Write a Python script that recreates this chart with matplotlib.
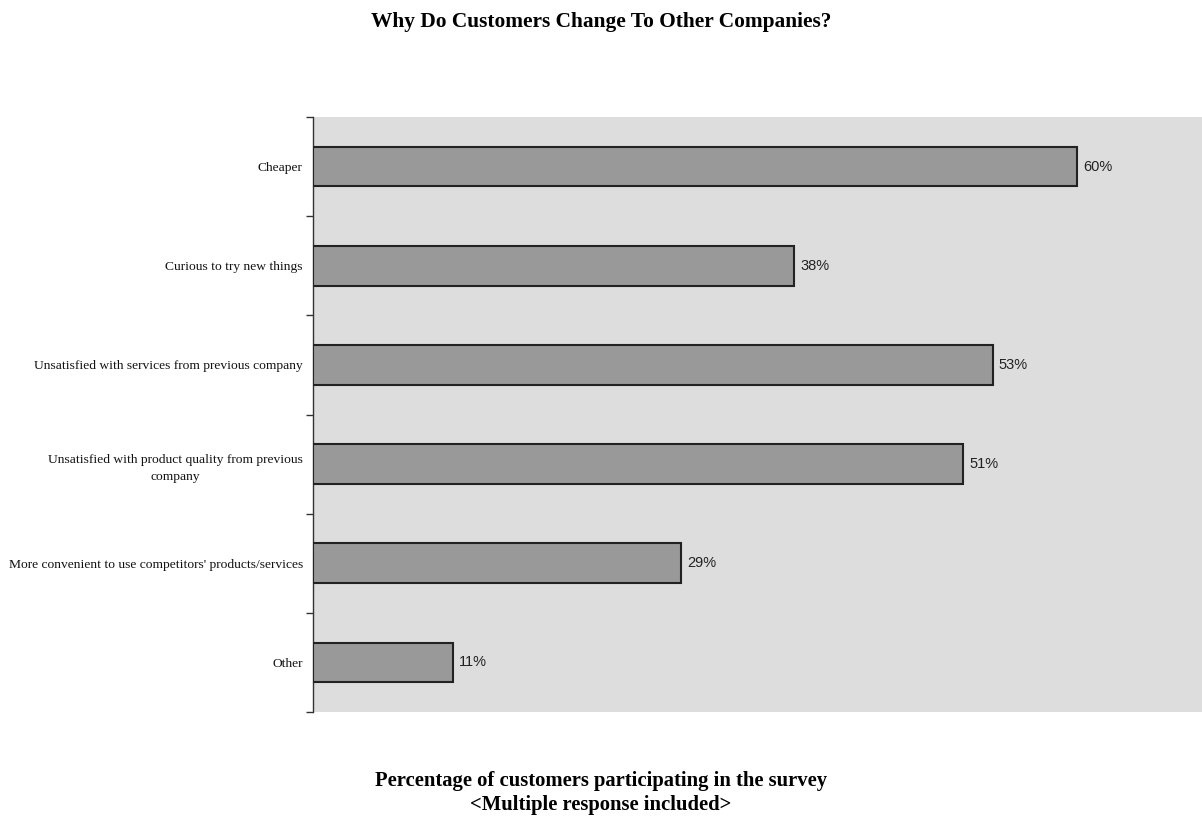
import matplotlib
matplotlib.use("Agg")
import matplotlib.pyplot as plt
from matplotlib.ticker import FixedLocator, NullLocator

categories = [
    "Cheaper",
    "Curious to try new things",
    "Unsatisfied with services from previous company",
    "Unsatisfied with product quality from previous\ncompany",
    "More convenient to use competitors' products/services",
    "Other",
]
values = [60.0, 37.8, 53.4, 51.1, 28.9, 11.0]
value_labels = ["60%", "38%", "53%", "51%", "29%", "11%"]
title = "Why Do Customers Change To Other Companies?"
xlabel = "Percentage of customers participating in the survey\n<Multiple response included>"

fig = plt.figure(figsize=(12.02, 8.25), dpi=100)
ax = fig.add_axes([312.5 / 1202, 1 - 712 / 825, 889.5 / 1202, (712 - 117) / 825])
ax.set_facecolor("#dddddd")

n = len(categories)
ypos = list(range(n))
ax.barh(ypos, values, height=0.4, color="#999999", edgecolor="#222222", linewidth=1.5, zorder=3)
ax.set_xlim(0, 69.84)
ax.set_ylim(n - 0.5, -0.5)

for y, v, lab in zip(ypos, values, value_labels):
    ax.annotate(lab, (v, y), xytext=(4.5, 0), textcoords="offset points",
                va="center", ha="left", fontsize=10.5, family="Liberation Sans",
                color="#222222")

ax.yaxis.set_major_locator(FixedLocator([i - 0.5 for i in range(n + 1)]))
ax.yaxis.set_major_formatter(plt.NullFormatter())
ax.yaxis.set_minor_locator(FixedLocator(ypos))
ax.set_yticklabels(categories, minor=True, family="Liberation Serif", fontsize=9.7,
                   multialignment="center", color="#111111", linespacing=1.6)
ax.tick_params(axis="y", which="major", length=5, color="#333333", width=1)
ax.tick_params(axis="y", which="minor", length=0, pad=7)
ax.xaxis.set_major_locator(NullLocator())
for s in ["top", "right", "bottom"]:
    ax.spines[s].set_visible(False)
ax.spines["left"].set_color("#333333")
ax.spines["left"].set_linewidth(1)

fig.text(0.5, 1 - 22 / 825, title, ha="center", va="center", family="Liberation Serif",
         fontweight="bold", fontsize=15.4)
fig.text(0.5, 1 - 793 / 825, xlabel, ha="center", va="center", family="Liberation Serif",
         fontweight="bold", fontsize=14.9, linespacing=1.3)

fig.savefig("out.png", dpi=100)
